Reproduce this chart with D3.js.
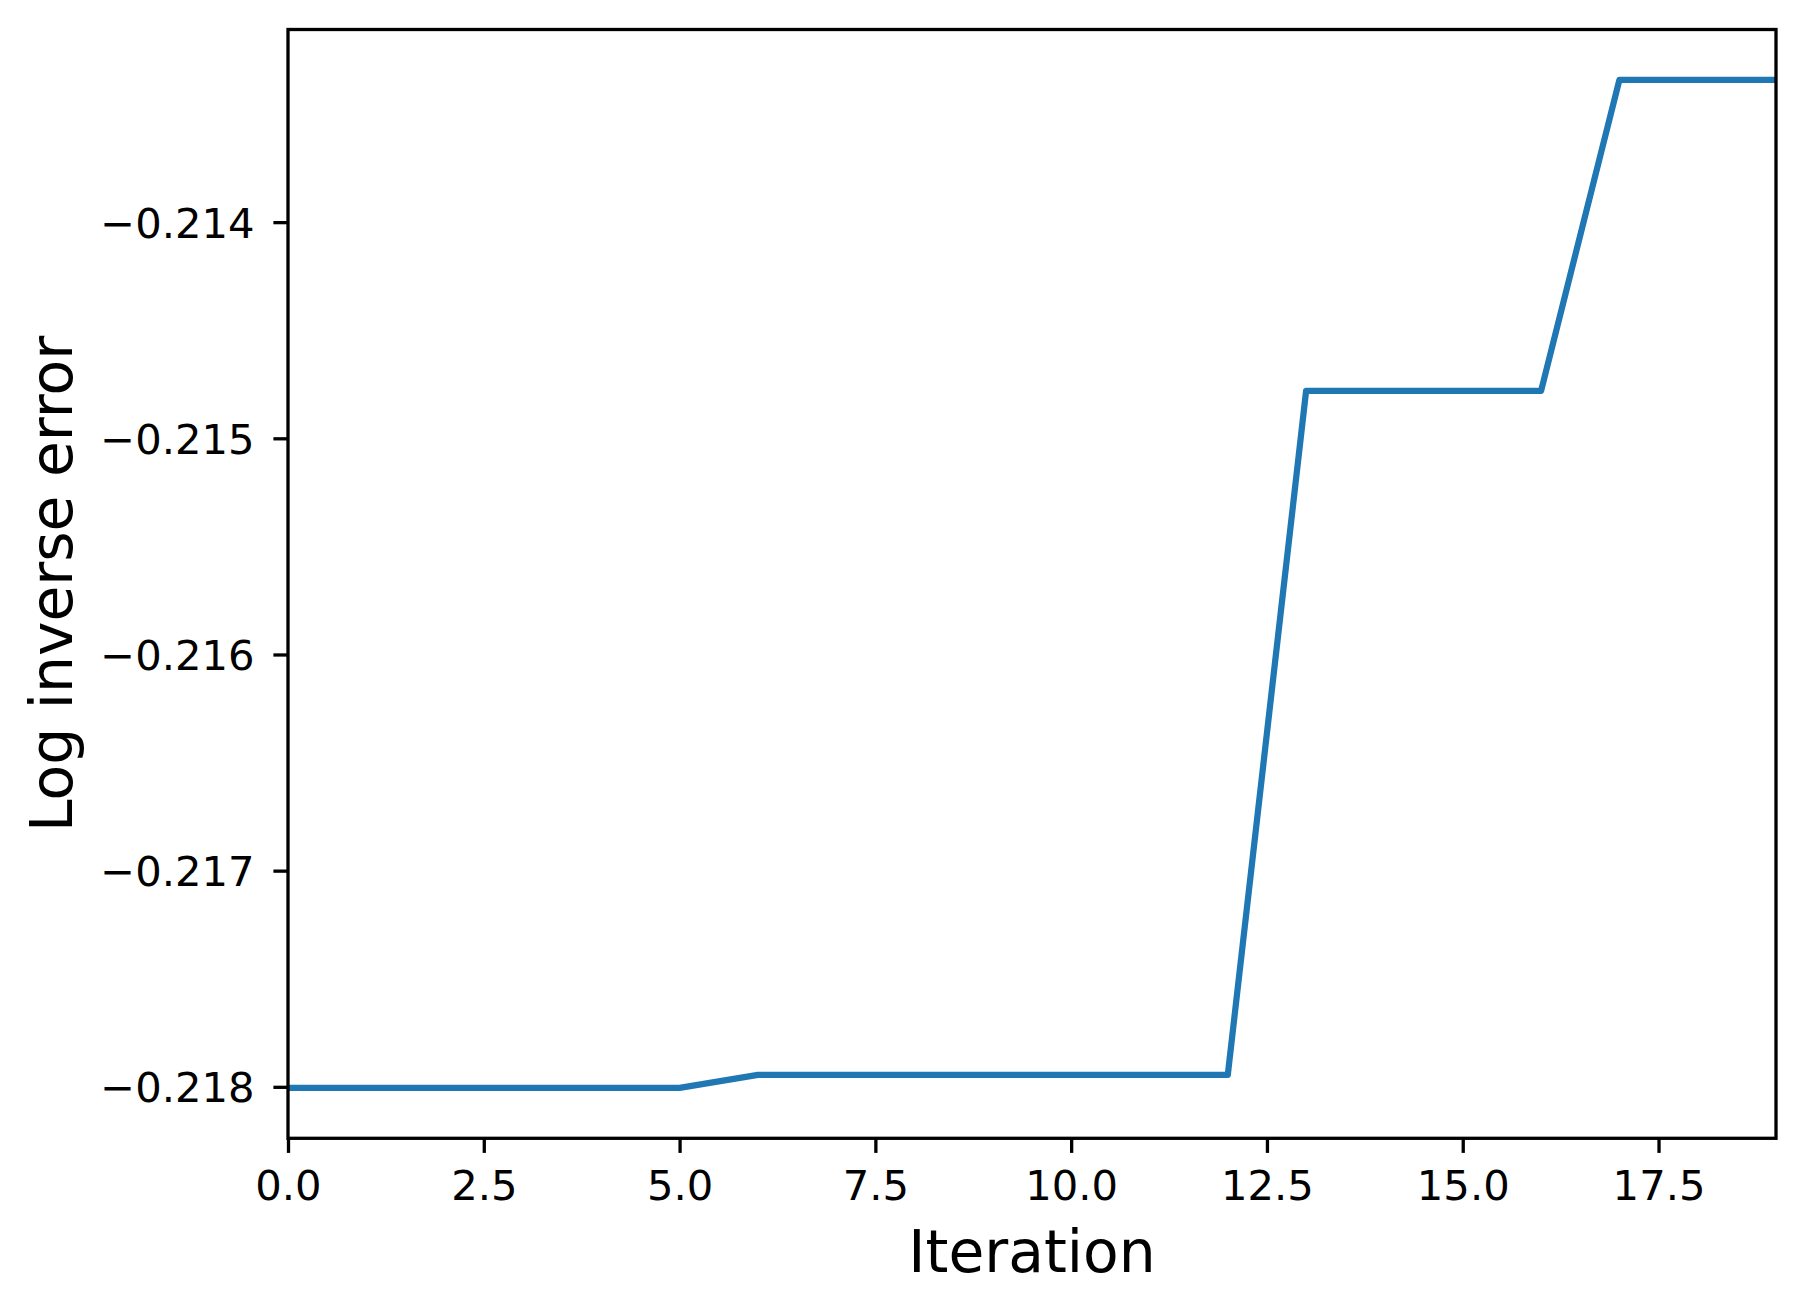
<!DOCTYPE html>
<html>
<head>
<meta charset="utf-8">
<script src="https://cdn.jsdelivr.net/npm/d3@7"></script>
<style>
  html, body { margin: 0; padding: 0; background: #ffffff; }
  svg { display: block; font-family: "DejaVu Sans", sans-serif; }
</style>
</head>
<body>
<svg id="chart" width="1804" height="1313"></svg>
<script>
// Data
const iterations = [0, 1, 2, 3, 4, 5, 6, 7, 8, 9, 10, 11, 12, 13, 14, 15, 16, 17, 18, 19];
const logInverseError = [
  -0.218005, -0.218005, -0.218005, -0.218005, -0.218005, -0.218005,
  -0.217945, -0.217945, -0.217945, -0.217945, -0.217945, -0.217945, -0.217945,
  -0.214781, -0.214781, -0.214781, -0.214781,
  -0.213342, -0.213342, -0.213342
];
const xTicks = [0, 2.5, 5, 7.5, 10, 12.5, 15, 17.5];
const yTicks = [-0.218, -0.217, -0.216, -0.215, -0.214];
const xLabel = "Iteration";
const yLabel = "Log inverse error";

const svg = d3.select("#chart");
const L = 288, R = 1776, T = 29.5, B = 1138.3;

const ymin = d3.min(logInverseError), ymax = d3.max(logInverseError);
const pad = (ymax - ymin) * 0.05;
const x = d3.scaleLinear().domain([0, 19]).range([L, R]);
const y = d3.scaleLinear().domain([ymin - pad, ymax + pad]).range([B, T]);

const fmtMinus = d => (d < 0 ? "\u2212" : "") + Math.abs(d).toFixed(3);

svg.append("defs").append("clipPath").attr("id", "plotclip")
  .append("rect").attr("x", L).attr("y", T).attr("width", R - L).attr("height", B - T);

// line
const line = d3.line().x((d, i) => x(iterations[i])).y(d => y(d));
svg.append("path")
  .datum(logInverseError)
  .attr("d", line)
  .attr("clip-path", "url(#plotclip)")
  .attr("fill", "none")
  .attr("stroke", "#1f77b4")
  .attr("stroke-width", 6.25)
  .attr("stroke-linejoin", "round")
  .attr("stroke-linecap", "square");

// Axes
const xAxis = d3.axisBottom(x).tickValues(xTicks).tickSize(14.6).tickPadding(10)
  .tickFormat(d => d.toFixed(1));
const gx = svg.append("g").attr("transform", `translate(0,${B})`).call(xAxis);
gx.select(".domain").remove();
gx.selectAll(".tick line").attr("stroke", "#000").attr("stroke-width", 3.3);
gx.selectAll(".tick text").attr("font-size", 41.7).attr("fill", "#000")
  .attr("font-family", "DejaVu Sans, sans-serif")
  .attr("dy", null).attr("y", 62);

const yAxis = d3.axisLeft(y).tickValues(yTicks).tickSize(14.6).tickPadding(18)
  .tickFormat(fmtMinus);
const gy = svg.append("g").attr("transform", `translate(${L},0)`).call(yAxis);
gy.select(".domain").remove();
gy.selectAll(".tick line").attr("stroke", "#000").attr("stroke-width", 3.3);
gy.selectAll(".tick text").attr("font-size", 41.7).attr("fill", "#000")
  .attr("font-family", "DejaVu Sans, sans-serif")
  .attr("dy", "0.36em").attr("x", -33.5);

// frame
svg.append("rect")
  .attr("x", L).attr("y", T).attr("width", R - L).attr("height", B - T)
  .attr("fill", "none").attr("stroke", "#000").attr("stroke-width", 3.3);

// labels
svg.append("text").attr("x", (L + R) / 2).attr("y", 1272)
  .attr("text-anchor", "middle").attr("font-size", 58.3).attr("fill", "#000")
  .text(xLabel);
svg.append("text")
  .attr("transform", `translate(72,${(T + B) / 2}) rotate(-90)`)
  .attr("text-anchor", "middle").attr("font-size", 58.3).attr("fill", "#000")
  .text(yLabel);
</script>
</body>
</html>
